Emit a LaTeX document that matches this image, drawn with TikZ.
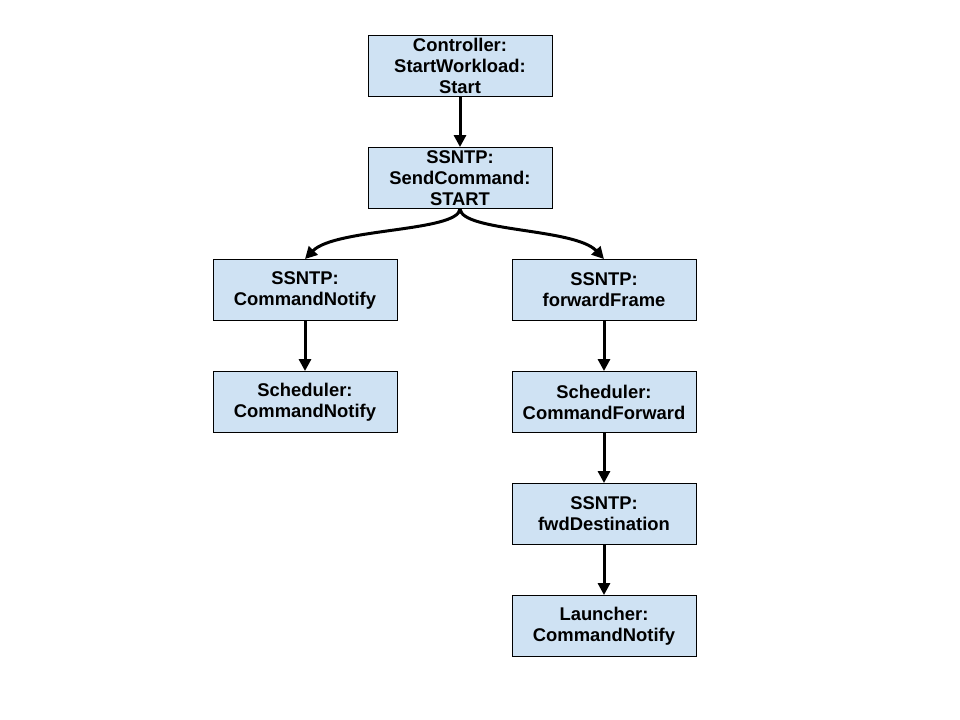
\documentclass[tikz,border=0pt]{standalone}
\usepackage{fontspec}
\setmainfont{Liberation Sans}
\usetikzlibrary{arrows.meta}
\definecolor{boxblue}{HTML}{CFE2F3}
\tikzset{
  box/.style={draw=black, line width=0.9bp, fill=boxblue, minimum width=184bp, minimum height=61bp,
    inner sep=0pt, align=center, font=\fontsize{18.4bp}{21bp}\selectfont\bfseries},
  conn/.style={line width=3bp, -{Triangle[length=12bp,width=12bp]}}
}
\begin{document}
\begin{tikzpicture}[x=1bp,y=-1bp]
\useasboundingbox (0,0) rectangle (960,720);
\node[box] (ctrl) at (460,66) {Controller:\\StartWorkload:\\Start};
\node[box] (send) at (460,178) {SSNTP:\\SendCommand:\\START};
\node[box] (cn) at (305,290) {SSNTP:\\CommandNotify};
\node[box] (ff) at (604,290) {SSNTP:\\forwardFrame};
\node[box] (sched) at (305,402) {Scheduler:\\CommandNotify};
\node[box] (schedf) at (604,402) {Scheduler:\\CommandForward};
\node[box] (fwd) at (604,514) {SSNTP:\\fwdDestination};
\node[box] (launch) at (604,626) {Launcher:\\CommandNotify};
\draw[conn] (ctrl.south) -- (send.north);
\draw[conn] (send.south) .. controls (458,232) and (335,228) .. (cn.north);
\draw[conn] (send.south) .. controls (462,232) and (575,228) .. (ff.north);
\draw[conn] (cn.south) -- (sched.north);
\draw[conn] (ff.south) -- (schedf.north);
\draw[conn] (schedf.south) -- (fwd.north);
\draw[conn] (fwd.south) -- (launch.north);
\end{tikzpicture}
\end{document}
